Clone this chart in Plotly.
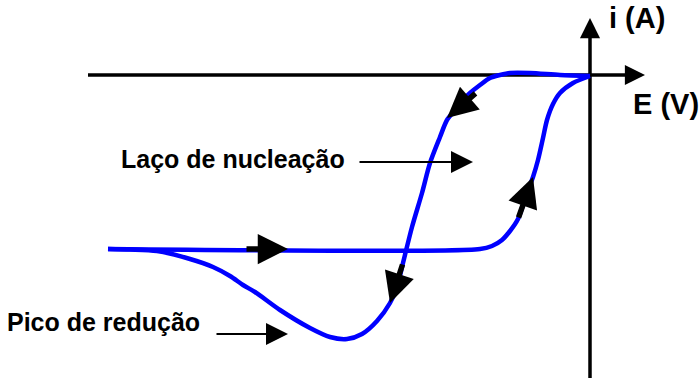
import plotly.graph_objects as go

# ---- data (E in V, i in A, arbitrary schematic units) ----
forward_E = [-4.82, -1.10, -0.98, -0.88, -0.80, -0.72, -0.63, -0.57, -0.52, -0.47, -0.43, -0.37, -0.30, -0.17, 0.00]
forward_i = [-1.74, -1.74, -1.71, -1.65, -1.56, -1.44, -1.18, -1.02, -0.85, -0.63, -0.45, -0.29, -0.18, -0.08, -0.01]

reverse_E = [0.00, -0.30, -0.60, -0.80, -0.90, -1.00, -1.10, -1.20, -1.28, -1.35, -1.43, -1.50, -1.60, -1.68,
             -1.78, -1.87, -1.93, -2.00, -2.13, -2.28, -2.43, -2.60, -2.80, -3.10, -3.35, -3.47, -3.60, -3.77,
             -4.00, -4.33, -4.60, -4.82]
reverse_i = [-0.01, 0.00, 0.02, 0.02, 0.00, -0.03, -0.10, -0.18, -0.26, -0.35, -0.45, -0.62, -0.88, -1.18,
             -1.52, -1.88, -2.12, -2.28, -2.46, -2.59, -2.64, -2.62, -2.53, -2.35, -2.17, -2.10, -2.01, -1.92,
             -1.84, -1.76, -1.745, -1.74]

# scan direction arrows: (tip E, tip i, tail E, tail i)
scan_arrows = [
    (-3.02, -1.74, -3.45, -1.74),
    (-1.43, -0.43, -1.13, -0.17),
    (-2.00, -2.28, -1.87, -1.88),
    (-0.57, -1.02, -0.72, -1.44),
]

# callout labels
labels = ["Laço de nucleação", "Pico de redução"]
label_E = [-4.71, -5.85]
label_i = [-0.84, -2.47]
callout_tail_E = [-2.32, -3.75]
callout_tip_E = [-1.17, -3.02]
callout_i = [-0.87, -2.59]

axis_titles = ["i (A)", "E (V)"]
axis_title_E = [0.17, 0.41]
axis_title_i = [0.57, -0.29]

x_range = [-5.9, 1.1]
y_range = [-3.03, 0.75]
h_axis = (-5.02, 0.55)   # horizontal axis extent (E)
v_axis = (-3.03, 0.57)   # vertical axis extent (i)

BLUE = "#0000FF"
FONT = "Liberation Sans, Arial, sans-serif"

fig = go.Figure()
fig.add_trace(go.Scatter(x=forward_E, y=forward_i, mode="lines",
                         line=dict(color=BLUE, width=4.5, shape="spline", smoothing=0.8),
                         hoverinfo="skip", showlegend=False, cliponaxis=False))
fig.add_trace(go.Scatter(x=reverse_E, y=reverse_i, mode="lines",
                         line=dict(color=BLUE, width=4.5, shape="spline", smoothing=0.8),
                         hoverinfo="skip", showlegend=False, cliponaxis=False))

# axes lines (below the curve)
fig.add_shape(type="line", x0=h_axis[0], x1=h_axis[1] - 0.1, y0=0, y1=0,
              line=dict(color="black", width=3.5), layer="below")
fig.add_shape(type="line", x0=0, x1=0, y0=v_axis[0] - 0.1, y1=v_axis[1] - 0.1,
              line=dict(color="black", width=3.5), layer="below")

ann = []
# axis arrowheads
ann.append(dict(x=h_axis[1], y=0, ax=h_axis[1] - 0.2, ay=0, xref="x", yref="y", axref="x", ayref="y",
                showarrow=True, arrowhead=2, arrowwidth=3.5, arrowsize=1.15, arrowcolor="black",
                standoff=0, startstandoff=0, text=""))
ann.append(dict(x=0, y=v_axis[1], ax=0, ay=v_axis[1] - 0.2, xref="x", yref="y", axref="x", ayref="y",
                showarrow=True, arrowhead=2, arrowwidth=3.5, arrowsize=1.15, arrowcolor="black",
                standoff=0, startstandoff=0, text=""))

for (tx, ty, sx, sy) in scan_arrows:
    ann.append(dict(x=tx, y=ty, ax=sx, ay=sy, xref="x", yref="y", axref="x", ayref="y",
                    showarrow=True, arrowhead=2, arrowwidth=5.5, arrowsize=1.1, arrowcolor="black",
                    standoff=0, startstandoff=0, text=""))

for k, t in enumerate(labels):
    ann.append(dict(x=label_E[k], y=label_i[k], xref="x", yref="y", text="<b>" + t + "</b>",
                    showarrow=False, xanchor="left", yanchor="middle",
                    font=dict(family=FONT, size=25, color="black")))
    ann.append(dict(x=callout_tip_E[k], y=callout_i[k], ax=callout_tail_E[k], ay=callout_i[k],
                    xref="x", yref="y", axref="x", ayref="y", text="",
                    showarrow=True, arrowhead=2, arrowwidth=2, arrowsize=2.2, arrowcolor="black",
                    standoff=0, startstandoff=0))

for k, t in enumerate(axis_titles):
    ann.append(dict(x=axis_title_E[k], y=axis_title_i[k], xref="x", yref="y", text="<b>" + t + "</b>",
                    showarrow=False, xanchor="left", yanchor="middle",
                    font=dict(family=FONT, size=29, color="black")))

fig.update_layout(
    width=700, height=378, margin=dict(l=0, r=0, t=0, b=0),
    paper_bgcolor="white", plot_bgcolor="white",
    xaxis=dict(range=x_range, visible=False, fixedrange=True),
    yaxis=dict(range=y_range, visible=False, fixedrange=True),
    annotations=ann, showlegend=False, hovermode=False,
)

# remove the default page margin so the figure fills the 700x378 window
fig.write_html("out.html", config={"displayModeBar": False, "staticPlot": True},
               post_script="document.body.style.margin='0';document.body.style.overflow='hidden';")
